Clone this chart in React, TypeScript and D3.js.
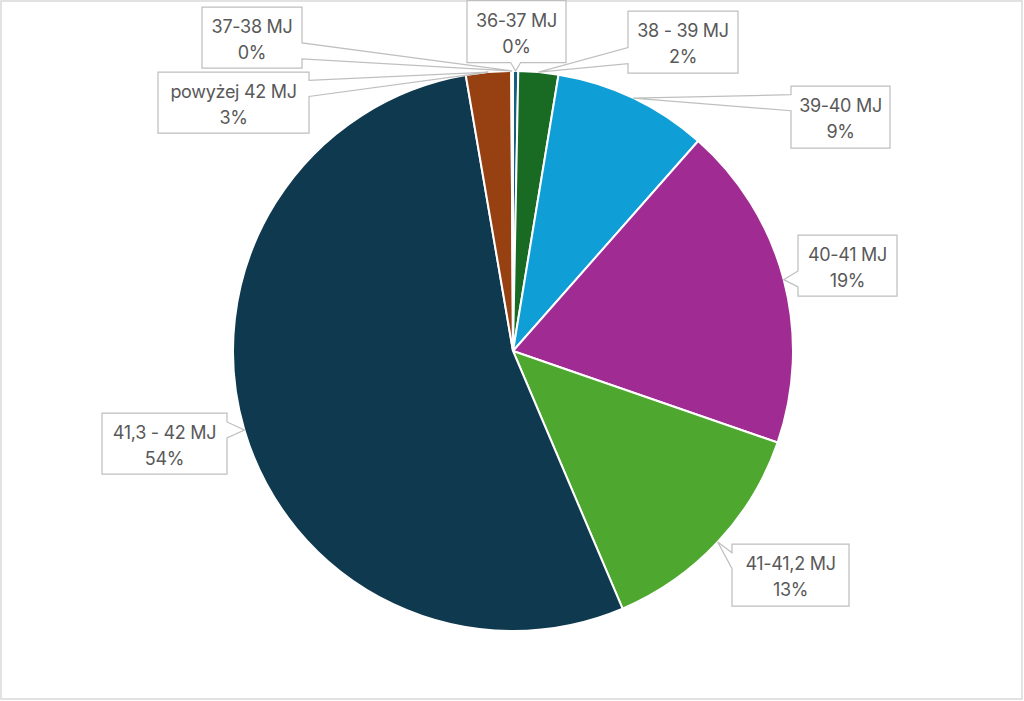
import * as d3 from "d3";
import React from "react";

const width = 1024;
const height = 701;

// categories in drawing order (clockwise from 12 o'clock)
const categories = [
  "36-37 MJ",
  "38 - 39 MJ",
  "39-40 MJ",
  "40-41 MJ",
  "41-41,2 MJ",
  "41,3 - 42 MJ",
  "powyżej 42 MJ",
  "37-38 MJ",
];
// share in percent
const shares = [0.3, 2.3, 8.9, 18.8, 13.3, 53.7, 2.6, 0.1];
const colors = [
  "#156082",
  "#196b24",
  "#0f9ed5",
  "#a02b93",
  "#4ea72e",
  "#0e394e",
  "#974012",
  "#e97132",
];

// label box placement (layout only)
const labelBoxes = [
  { x: 467, y: 0.5, w: 99, h: 62 },
  { x: 628, y: 11, w: 110, h: 62 },
  { x: 791, y: 86, w: 99, h: 62 },
  { x: 798, y: 235, w: 99, h: 61 },
  { x: 732, y: 544, w: 117, h: 62 },
  { x: 102, y: 413, w: 125, h: 61 },
  { x: 158, y: 72, w: 151, h: 61 },
  { x: 202, y: 7, w: 100, h: 61 },
];

const cx = 513;
const cy = 351;
const radius = 280;

function calloutPath(b: any, tip: [number, number]) {
  const x = b.x, y = b.y, x2 = b.x + b.w, y2 = b.y + b.h;
  const hw = 8;
  const [tx, ty] = tip;
  if (tx < x || tx > x2) {
    const c = Math.max(y + 0.27 * b.h, Math.min(ty, y + 0.72 * b.h));
    if (tx < x) {
      return `M${x},${y}H${x2}V${y2}H${x}V${c + hw}L${tx},${ty}L${x},${c - hw}Z`;
    }
    return `M${x},${y}H${x2}V${c - hw}L${tx},${ty}L${x2},${c + hw}V${y2}H${x}Z`;
  }
  const c = Math.max(x + 0.27 * b.w, Math.min(tx, x + 0.72 * b.w));
  const half = 5;
  if (ty > y2) {
    return `M${x},${y}H${x2}V${y2}H${c + half}L${tx},${ty}L${c - half},${y2}H${x}Z`;
  }
  return `M${x},${y}H${c - half}L${tx},${ty}L${c + half},${y}H${x2}V${y2}H${x}Z`;
}

export default function App() {
  const total = d3.sum(shares);
  const pie = d3
    .pie<number>()
    .sort(null)
    .value((d) => d);
  const arcs = pie(shares);
  const arc = d3.arc<any>().innerRadius(0).outerRadius(radius);
  const fmt = d3.format(".0%");

  return (
    <svg
      width={width}
      height={height}
      style={{ position: "fixed", top: 0, left: 0, background: "#fff" }}
    >
      <rect x={1} y={1} width={1021} height={698} fill="#fff" stroke="#d9d9d9" strokeWidth={1.5} />
      <g transform={`translate(${cx},${cy})`}>
        {arcs.map((a, i) => (
          <path key={i} d={arc(a) as string} fill={colors[i]} stroke="#fff" strokeWidth={2} />
        ))}
      </g>
      <g fontFamily="Inter, 'Noto Sans', sans-serif" fontSize={18} fill="#595959">
        {arcs.map((a, i) => {
          const mid = (a.startAngle + a.endAngle) / 2;
          const tip: [number, number] = [cx + radius * Math.sin(mid), cy - radius * Math.cos(mid)];
          const b = labelBoxes[i];
          return (
            <g key={i}>
              <path d={calloutPath(b, tip)} fill="#fff" stroke="#bfbfbf" strokeWidth={1.25} />
              <text x={b.x + b.w / 2} y={b.y + 26} textAnchor="middle" letterSpacing={-0.3}>
                {categories[i]}
              </text>
              <text x={b.x + b.w / 2} y={b.y + 52} textAnchor="middle" letterSpacing={-0.3}>
                {fmt(shares[i] / total)}
              </text>
            </g>
          );
        })}
      </g>
    </svg>
  );
}
